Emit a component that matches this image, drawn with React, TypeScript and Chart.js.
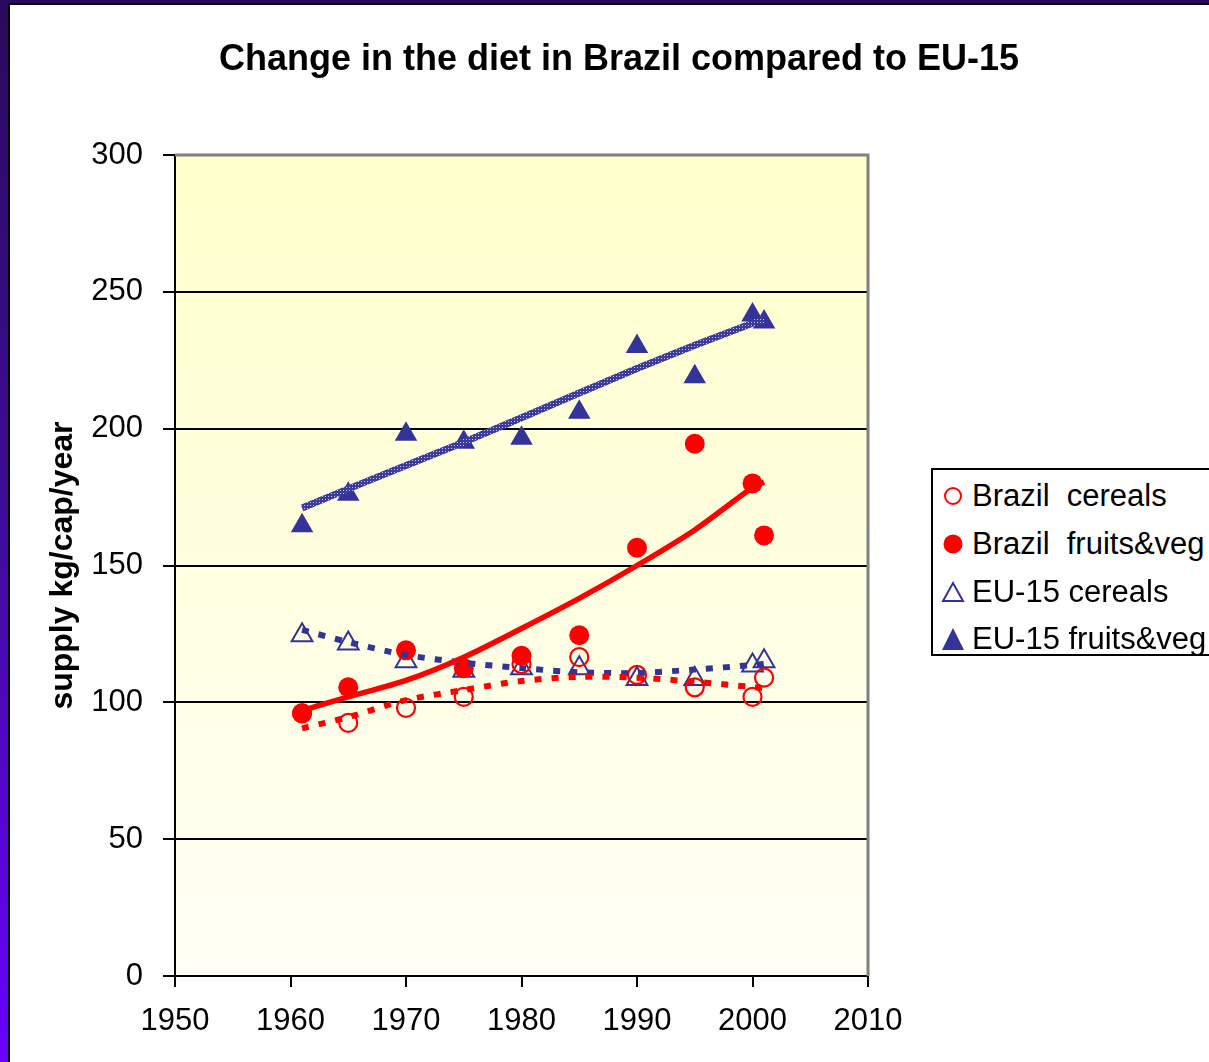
import React, { useEffect, useRef } from "react";
import { Chart, registerables } from "chart.js";

Chart.register(...registerables);

const FONT = "'Liberation Sans', Arial, Helvetica, sans-serif";

const chartTitle = "Change in the diet in Brazil compared to EU-15";
const yAxisTitle = "supply kg/cap/year";

const years = [1961, 1965, 1970, 1975, 1980, 1985, 1990, 1995, 2000, 2001];
const brazilCereals = [96, 92.5, 98, 102, 114, 116.5, 110, 105.5, 102, 109];
const brazilFruitsVeg = [96, 105.5, 119, 112.5, 117, 124.5, 156.5, 194.5, 180, 161];
const eu15Cereals = [124.5, 121.5, 115, 111.5, 112.5, 112.5, 108.5, 108.5, 113.5, 115];
const eu15FruitsVeg = [164.5, 176, 198, 195, 196.5, 206, 230, 219, 241.5, 239];

// trend lines
const brazilCerealsTrend = [90.5, 94.6, 100.8, 104.5, 107.8, 109.3, 109, 107.5, 105.6, 105.2];
const brazilFruitsVegTrend = [97, 102, 108, 116.5, 127, 138, 150, 163, 178.5, 180.5];
const eu15CerealsTrend = [126.5, 122, 117.3, 114.5, 112.5, 111, 110.7, 112, 113.6, 114];
const eu15FruitsVegTrend = [171, 178, 186.5, 195, 204, 213, 222, 230.5, 238.5, 240];

const xMin = 1950;
const xMax = 2010;
const xStep = 10;
const yMin = 0;
const yMax = 300;
const yStep = 50;

const legendLabels = ["Brazil  cereals", "Brazil  fruits&veg", "EU-15 cereals", "EU-15 fruits&veg"];

const RED = "#FF0000";
const BLUE = "#333399";

const pts = (vals: number[]) => years.map((x, i) => ({ x, y: vals[i] }));

const plotDecor = {
  id: "plotDecor",
  beforeDraw(chart: any) {
    const { ctx, chartArea } = chart;
    const { left, top, right, bottom } = chartArea;
    const g = ctx.createLinearGradient(0, top, 0, bottom);
    g.addColorStop(0, "#FFFFCC");
    g.addColorStop(1, "#FFFFF6");
    ctx.save();
    ctx.fillStyle = g;
    ctx.fillRect(left, top, right - left, bottom - top);
    ctx.restore();
  },
  beforeDatasetsDraw(chart: any) {
    const { ctx, chartArea } = chart;
    const { left, top, right, bottom } = chartArea;
    ctx.save();
    ctx.strokeStyle = "#808080";
    ctx.lineWidth = 3;
    ctx.beginPath();
    ctx.moveTo(left, top);
    ctx.lineTo(right, top);
    ctx.lineTo(right, bottom);
    ctx.stroke();
    ctx.restore();
  },
};

function LegendMarker({ kind }: { kind: number }) {
  if (kind === 0)
    return (
      <svg width="24" height="24" viewBox="0 0 24 24">
        <circle cx="12" cy="12" r="8" fill="none" stroke={RED} strokeWidth="2" />
      </svg>
    );
  if (kind === 1)
    return (
      <svg width="24" height="24" viewBox="0 0 24 24">
        <circle cx="12" cy="12" r="9.5" fill={RED} />
      </svg>
    );
  if (kind === 2)
    return (
      <svg width="24" height="24" viewBox="0 0 24 24">
        <polygon points="12,3 22,21 2,21" fill="none" stroke={BLUE} strokeWidth="2" />
      </svg>
    );
  return (
    <svg width="24" height="24" viewBox="0 0 24 24">
      <polygon points="12,1 23,23 1,23" fill={BLUE} />
    </svg>
  );
}

export default function App() {
  const canvasRef = useRef<HTMLCanvasElement | null>(null);

  useEffect(() => {
    const canvas = canvasRef.current;
    if (!canvas) return;
    const ctx = canvas.getContext("2d")!;

    const pc = document.createElement("canvas");
    pc.width = 3;
    pc.height = 3;
    const p = pc.getContext("2d")!;
    p.fillStyle = "#3a3aa0";
    p.fillRect(0, 0, 3, 3);
    p.fillStyle = "#c8c8f0";
    p.fillRect(1, 1, 1, 1);
    const hatch = ctx.createPattern(pc, "repeat") as any;

    const chart = new Chart(canvas, {
      type: "scatter",
      data: {
        datasets: [
          {
            label: "EU-15 fruits&veg trend",
            type: "line",
            data: pts(eu15FruitsVegTrend),
            borderColor: hatch,
            borderWidth: 7,
            pointRadius: 0,
            showLine: true,
            tension: 0,
            order: 1,
          } as any,
          {
            label: "Brazil fruits&veg trend",
            type: "line",
            data: pts(brazilFruitsVegTrend),
            borderColor: RED,
            borderWidth: 5.5,
            pointRadius: 0,
            showLine: true,
            tension: 0.3,
            order: 1,
          },
          {
            label: "Brazil cereals trend",
            type: "line",
            data: pts(brazilCerealsTrend),
            borderColor: RED,
            borderWidth: 6,
            borderDash: [7, 10],
            borderCapStyle: "butt",
            pointRadius: 0,
            showLine: true,
            tension: 0.3,
            order: 1,
          },
          {
            label: "EU-15 cereals trend",
            type: "line",
            data: pts(eu15CerealsTrend),
            borderColor: BLUE,
            borderWidth: 6,
            borderDash: [7, 10],
            borderCapStyle: "butt",
            pointRadius: 0,
            showLine: true,
            tension: 0.3,
            order: 1,
          },
          {
            label: legendLabels[0],
            data: pts(brazilCereals),
            pointStyle: "circle",
            pointRadius: 9,
            pointBorderWidth: 2.2,
            pointBorderColor: RED,
            pointBackgroundColor: "rgba(0,0,0,0)",
            order: 2,
          },
          {
            label: legendLabels[1],
            data: pts(brazilFruitsVeg),
            pointStyle: "circle",
            pointRadius: 10,
            pointBorderWidth: 0,
            pointBorderColor: RED,
            pointBackgroundColor: RED,
            order: 2,
          },
          {
            label: legendLabels[2],
            data: pts(eu15Cereals),
            pointStyle: "triangle",
            pointRadius: 12,
            pointBorderWidth: 2,
            pointBorderColor: BLUE,
            pointBackgroundColor: "rgba(0,0,0,0)",
            order: 2,
          },
          {
            label: legendLabels[3],
            data: pts(eu15FruitsVeg),
            pointStyle: "triangle",
            pointRadius: 13,
            pointBorderWidth: 0,
            pointBorderColor: BLUE,
            pointBackgroundColor: BLUE,
            order: 2,
          },
        ],
      },
      options: {
        animation: false,
        responsive: false,
        maintainAspectRatio: false,
        events: [],
        layout: { padding: { left: 29, right: 0, top: 0, bottom: 0 } },
        plugins: {
          legend: { display: false },
          tooltip: { enabled: false },
          title: {
            display: true,
            text: chartTitle,
            color: "#000",
            font: { family: FONT, size: 36, weight: "bold" },
            padding: { top: 38.4, bottom: 73.4 },
          },
        },
        scales: {
          x: {
            type: "linear",
            position: "bottom",
            min: xMin,
            max: xMax,
            afterFit: (s: any) => {
              s.height = 86;
            },
            ticks: {
              stepSize: xStep,
              color: "#000",
              font: { family: FONT, size: 31 },
              padding: 16,
              maxRotation: 0,
              callback: (v: any) => String(v),
            },
            grid: {
              drawOnChartArea: false,
              drawTicks: true,
              tickLength: 11,
              color: "#000",
              lineWidth: 2,
            },
            border: { display: true, color: "#000", width: 2 },
          },
          y: {
            type: "linear",
            position: "left",
            min: yMin,
            max: yMax,
            afterFit: (s: any) => {
              s.width = 146;
            },
            ticks: {
              stepSize: yStep,
              color: "#000",
              font: { family: FONT, size: 31 },
              padding: 20,
            },
            grid: {
              drawTicks: true,
              tickLength: 12,
              color: (c: any) => (c.tick && c.tick.value === yMax ? "rgba(0,0,0,0)" : "#000"),
              tickColor: "#000",
              lineWidth: 2,
            },
            border: { display: true, color: "#000", width: 2 },
            title: {
              display: true,
              text: yAxisTitle,
              color: "#000",
              font: { family: FONT, size: 32, weight: "bold" },
              padding: { top: 15, bottom: 0 },
            },
          },
          yRight: {
            type: "linear",
            position: "right",
            display: true,
            min: yMin,
            max: yMax,
            afterFit: (s: any) => {
              s.width = 341;
            },
            ticks: { display: false },
            grid: { display: false, drawTicks: false },
            border: { display: false },
          },
        },
      } as any,
      plugins: [plotDecor],
    });

    return () => {
      chart.destroy();
    };
  }, []);

  const legendRowTop = [0, 48, 96, 143];

  return (
    <div
      style={{
        position: "fixed",
        left: 0,
        top: 0,
        width: 1209,
        height: 1062,
        background: "#fff",
        overflow: "hidden",
        fontFamily: FONT,
      }}
    >
      <canvas
        ref={canvasRef}
        width={1209}
        height={1062}
        style={{ position: "absolute", left: 0, top: 0, width: 1209, height: 1062 }}
      />
      <div
        style={{
          position: "absolute",
          left: 0,
          top: 0,
          width: 8,
          height: 1062,
          background: "linear-gradient(to bottom, #2a0a5c 0%, #3d0c93 45%, #6a00ff 100%)",
        }}
      />
      <div style={{ position: "absolute", left: 8, top: 3, width: 2, height: 1059, background: "#000" }} />
      <div style={{ position: "absolute", left: 0, top: 0, width: 1209, height: 3, background: "#2a0a5c" }} />
      <div style={{ position: "absolute", left: 8, top: 3, width: 1201, height: 2, background: "#000" }} />

      <div
        style={{
          position: "absolute",
          left: 931,
          top: 468,
          width: 300,
          height: 188,
          border: "2px solid #000",
          background: "#fff",
          boxSizing: "border-box",
        }}
      >
        {legendLabels.map((lab, i) => (
          <div
            key={lab}
            style={{
              position: "absolute",
              left: 0,
              top: legendRowTop[i] + 4,
              height: 44,
              display: "flex",
              alignItems: "center",
              whiteSpace: "pre",
            }}
          >
            <div style={{ width: 24, height: 24, marginLeft: 8, marginRight: 7 }}>
              <LegendMarker kind={i} />
            </div>
            <span style={{ fontSize: 31, color: "#000", lineHeight: "44px" }}>{lab}</span>
          </div>
        ))}
      </div>
    </div>
  );
}
